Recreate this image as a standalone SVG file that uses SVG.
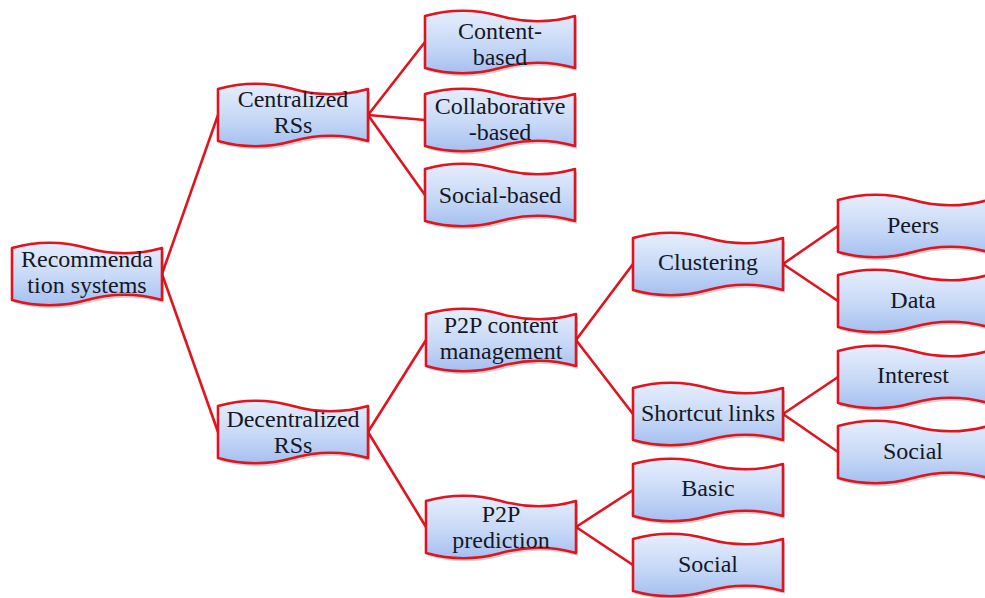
<svg xmlns="http://www.w3.org/2000/svg" xmlns:xlink="http://www.w3.org/1999/xlink" width="985" height="598" viewBox="0 0 985 598">
<defs>
<linearGradient id="g" x1="0" y1="0" x2="0" y2="1">
<stop offset="0" stop-color="#e6eefc"/>
<stop offset="0.6" stop-color="#c4d6f6"/>
<stop offset="1" stop-color="#a4bff0"/>
</linearGradient>
<path id="wave" d="M0,6 C25,-1 50,-1 75,6 C100,13 125,13 150,6 L150,58 C125,51 100,51 75,58 C50,65 25,65 0,58 Z"/>
</defs>
<style>
.shadow{fill:#000;opacity:0.18}
.box{fill:url(#g);stroke:#e0141e;stroke-width:2.6;stroke-linejoin:round}
.edge{stroke:#e0141e;stroke-width:2.6;fill:none}
</style>
<rect width="985" height="598" fill="#ffffff"/>
<g id="connectors">
<line class="edge" x1="162" y1="274" x2="218" y2="115"/>
<line class="edge" x1="162" y1="274" x2="218" y2="432"/>
<line class="edge" x1="368" y1="115" x2="425" y2="42"/>
<line class="edge" x1="368" y1="115" x2="425" y2="120"/>
<line class="edge" x1="368" y1="115" x2="425" y2="195"/>
<line class="edge" x1="368" y1="432" x2="426" y2="340"/>
<line class="edge" x1="368" y1="432" x2="426" y2="527"/>
<line class="edge" x1="576" y1="340" x2="633" y2="264"/>
<line class="edge" x1="576" y1="340" x2="633" y2="414"/>
<line class="edge" x1="576" y1="527" x2="633" y2="490"/>
<line class="edge" x1="576" y1="527" x2="633" y2="565"/>
<line class="edge" x1="783" y1="264" x2="838" y2="226"/>
<line class="edge" x1="783" y1="264" x2="838" y2="301"/>
<line class="edge" x1="783" y1="414" x2="838" y2="377"/>
<line class="edge" x1="783" y1="414" x2="838" y2="452"/>
</g>
<g font-family="Liberation Serif, serif" font-size="24" fill="#141826" text-anchor="middle">
<g id="n-rec" transform="translate(12,242)"><use href="#wave" class="shadow" transform="translate(2,3)"/><use href="#wave" class="box"/><text x="75" y="25">Recommenda</text><text x="75" y="51">tion systems</text></g>
<g id="n-central" transform="translate(218,83)"><use href="#wave" class="shadow" transform="translate(2,3)"/><use href="#wave" class="box"/><text x="75" y="24">Centralized</text><text x="75" y="50">RSs</text></g>
<g id="n-content" transform="translate(425,10)"><use href="#wave" class="shadow" transform="translate(2,3)"/><use href="#wave" class="box"/><text x="75" y="29">Content-</text><text x="75" y="55">based</text></g>
<g id="n-collab" transform="translate(425,88)"><use href="#wave" class="shadow" transform="translate(2,3)"/><use href="#wave" class="box"/><text x="75" y="26">Collaborative</text><text x="75" y="52">-based</text></g>
<g id="n-socialb" transform="translate(425,163)"><use href="#wave" class="shadow" transform="translate(2,3)"/><use href="#wave" class="box"/><text x="75" y="40">Social-based</text></g>
<g id="n-decentral" transform="translate(218,400)"><use href="#wave" class="shadow" transform="translate(2,3)"/><use href="#wave" class="box"/><text x="75" y="27">Decentralized</text><text x="75" y="53">RSs</text></g>
<g id="n-p2pcm" transform="translate(426,308)"><use href="#wave" class="shadow" transform="translate(2,3)"/><use href="#wave" class="box"/><text x="75" y="25">P2P content</text><text x="75" y="51">management</text></g>
<g id="n-p2ppred" transform="translate(426,495)"><use href="#wave" class="shadow" transform="translate(2,3)"/><use href="#wave" class="box"/><text x="75" y="27">P2P</text><text x="75" y="53">prediction</text></g>
<g id="n-clustering" transform="translate(633,232)"><use href="#wave" class="shadow" transform="translate(2,3)"/><use href="#wave" class="box"/><text x="75" y="38">Clustering</text></g>
<g id="n-shortcut" transform="translate(633,382)"><use href="#wave" class="shadow" transform="translate(2,3)"/><use href="#wave" class="box"/><text x="75" y="39">Shortcut links</text></g>
<g id="n-basic" transform="translate(633,458)"><use href="#wave" class="shadow" transform="translate(2,3)"/><use href="#wave" class="box"/><text x="75" y="38">Basic</text></g>
<g id="n-social2" transform="translate(633,533)"><use href="#wave" class="shadow" transform="translate(2,3)"/><use href="#wave" class="box"/><text x="75" y="39">Social</text></g>
<g id="n-peers" transform="translate(838,194)"><use href="#wave" class="shadow" transform="translate(2,3)"/><use href="#wave" class="box"/><text x="75" y="39">Peers</text></g>
<g id="n-data" transform="translate(838,269)"><use href="#wave" class="shadow" transform="translate(2,3)"/><use href="#wave" class="box"/><text x="75" y="39">Data</text></g>
<g id="n-interest" transform="translate(838,345)"><use href="#wave" class="shadow" transform="translate(2,3)"/><use href="#wave" class="box"/><text x="75" y="38">Interest</text></g>
<g id="n-social1" transform="translate(838,420)"><use href="#wave" class="shadow" transform="translate(2,3)"/><use href="#wave" class="box"/><text x="75" y="39">Social</text></g>
</g>
</svg>
